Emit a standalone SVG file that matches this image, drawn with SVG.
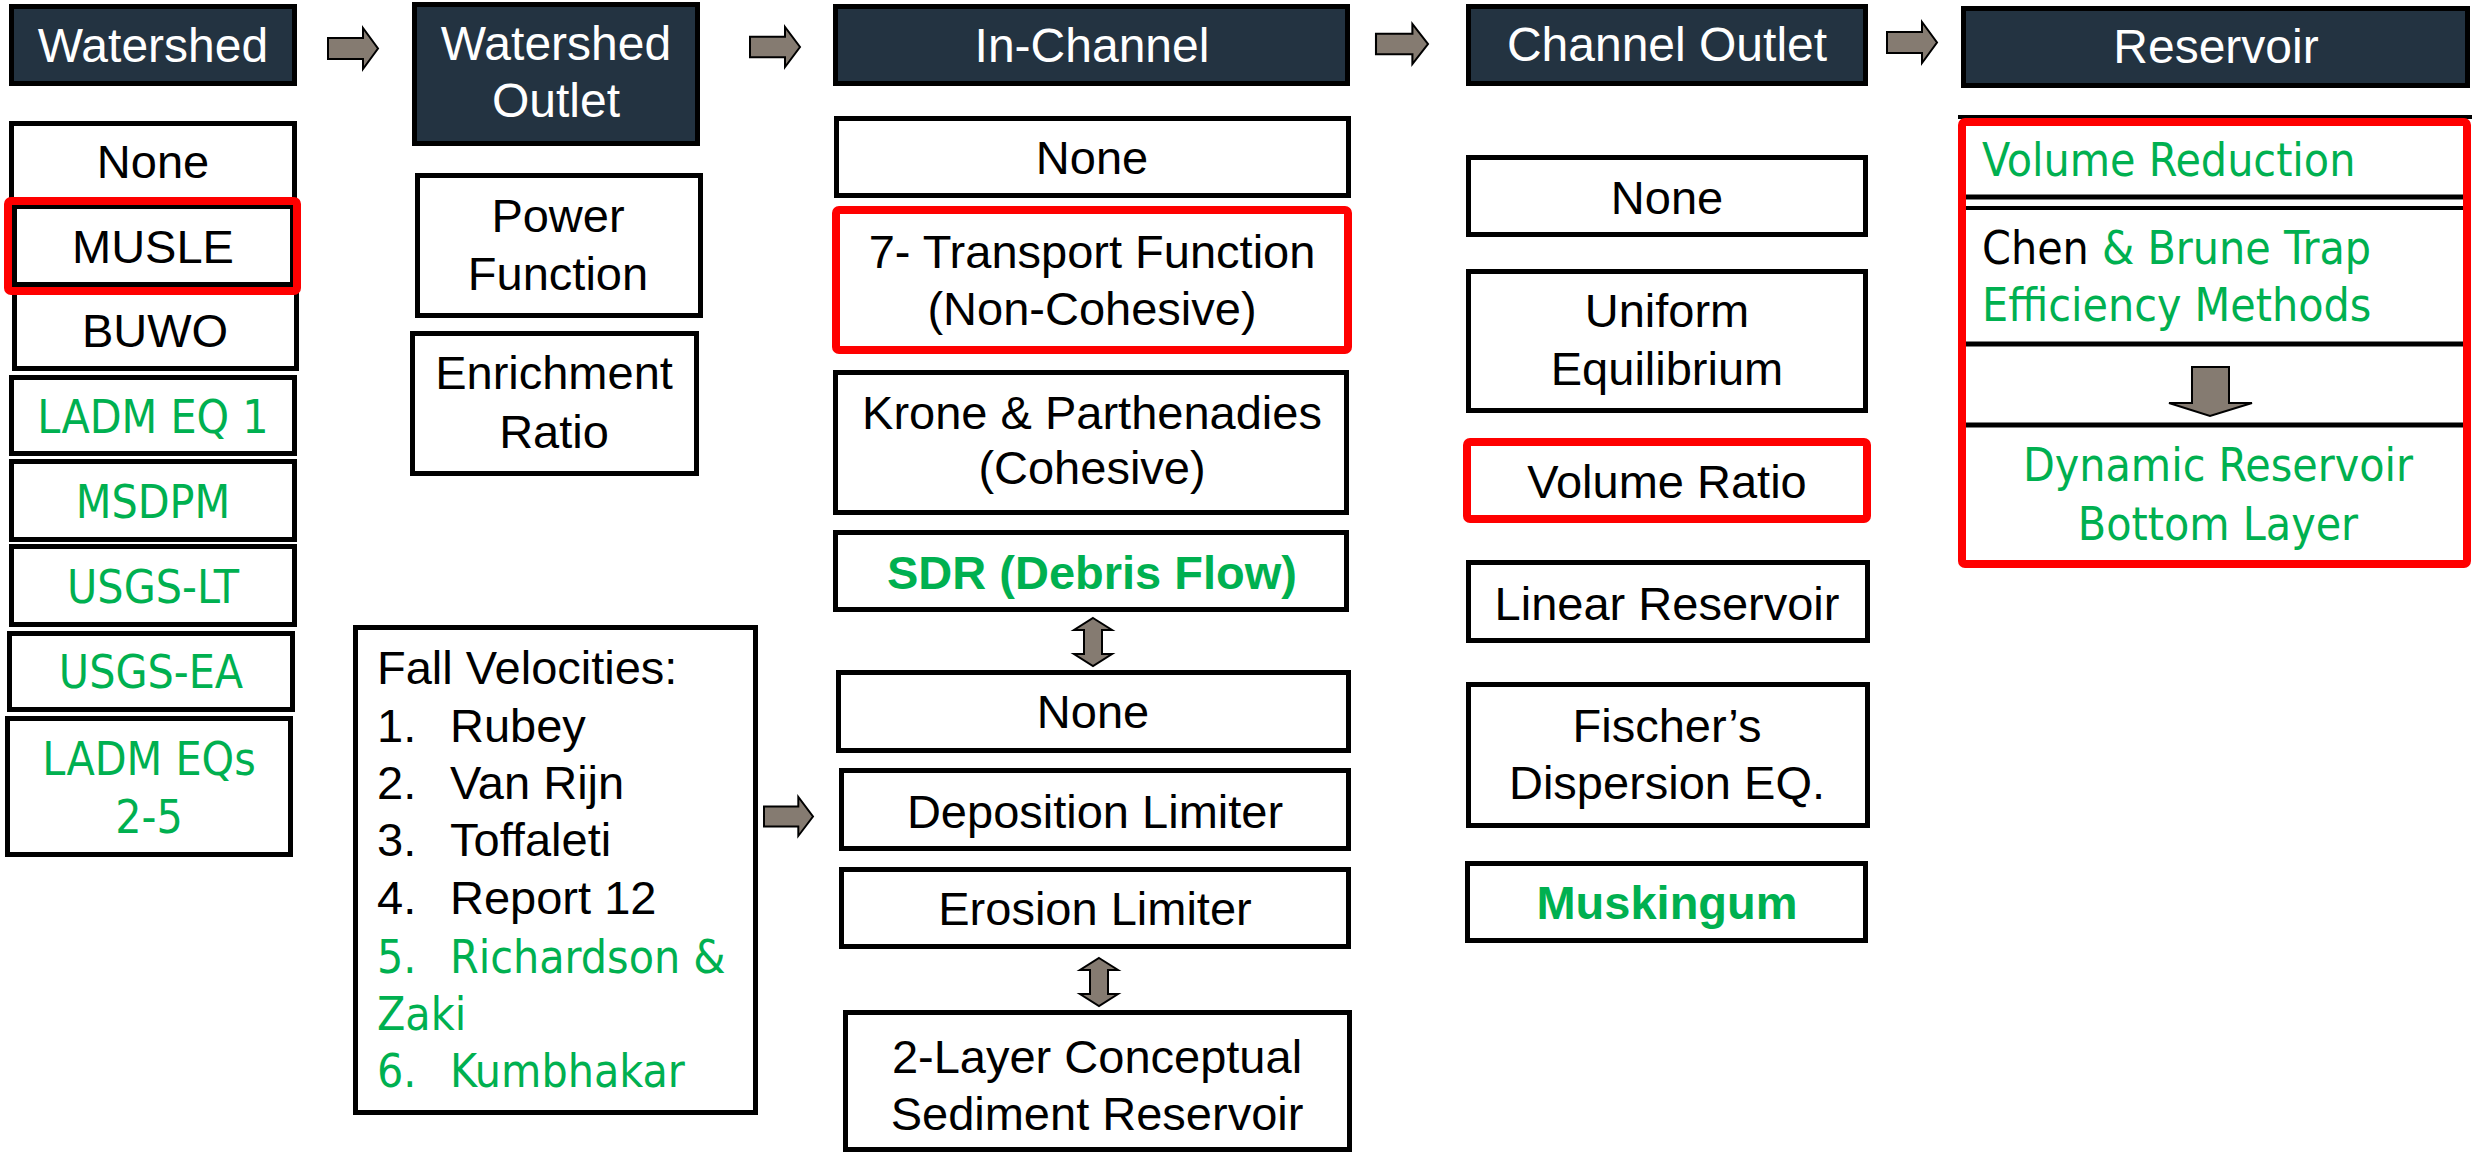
<svg xmlns="http://www.w3.org/2000/svg" xmlns:xlink="http://www.w3.org/1999/xlink" width="2472" height="1153" viewBox="0 0 2472 1153">
<style>
.box{fill:#fff;stroke:#000;stroke-width:5}
.hdr{fill:#233341;stroke:#000;stroke-width:5}
.sel{fill:none;stroke:#ff0000;stroke-width:8}
.t{font-family:"Liberation Sans",Arial,sans-serif;font-size:47px;fill:#000;text-anchor:middle}
.th{font-family:"Liberation Sans",Arial,sans-serif;font-size:48px;fill:#fff;text-anchor:middle}
.g{font-family:"DejaVu Sans Condensed","DejaVu Sans",Tahoma,sans-serif;font-stretch:condensed;font-size:46px;fill:#00b050;text-anchor:middle}
.gb{font-family:"Liberation Sans",Arial,sans-serif;font-size:47px;font-weight:bold;fill:#00b050;text-anchor:middle}
.l{text-anchor:start}
.k{fill:#000}
.arr{fill:#857b71;stroke:#000;stroke-width:2}
</style>
<defs>
<path id="ra" d="M0,10 H35 V0 L50,20.5 L35,41 V31 H0 Z"/>
<path id="va" d="M19,0 L38,12 H28 V36 H38 L19,48 L0,36 H10 V12 H0 Z"/>
</defs>

<g id="watershed">
<rect class="hdr" x="11.5" y="6.5" width="283" height="77"/>
<text class="th" x="153" y="62">Watershed</text>
</g>
<g id="ws-none"><rect class="box" x="11.5" y="123.5" width="283" height="77"/><text class="t" x="153" y="178">None</text></g>
<g id="ws-buwo"><rect class="box" x="14.5" y="289.5" width="282" height="79"/><text class="t" x="155" y="347">BUWO</text></g>
<g id="ws-musle"><rect class="box" x="14.5" y="206.5" width="278" height="78"/><text class="t" x="153" y="263">MUSLE</text>
<rect class="sel" x="8" y="201" width="289" height="90" rx="3"/></g>
<g id="ws-ladm1"><rect class="box" x="11.5" y="377.5" width="283" height="76"/><text class="g" x="153" y="433">LADM EQ 1</text></g>
<g id="ws-msdpm"><rect class="box" x="11.5" y="461.5" width="283" height="78"/><text class="g" x="153" y="518">MSDPM</text></g>
<g id="ws-usgslt"><rect class="box" x="11.5" y="546.5" width="283" height="78"/><text class="g" x="153" y="603">USGS-LT</text></g>
<g id="ws-usgsea"><rect class="box" x="9.5" y="633.5" width="283" height="76"/><text class="g" x="151" y="688">USGS-EA</text></g>
<g id="ws-ladm25"><rect class="box" x="7.5" y="718.5" width="283" height="136"/><text class="g" x="149" y="775">LADM EQs</text><text class="g" x="149" y="833">2-5</text></g>

<g id="watershed-outlet">
<rect class="hdr" x="414.5" y="4.5" width="283" height="139"/>
<text class="th" x="556" y="60">Watershed</text>
<text class="th" x="556" y="117">Outlet</text>
</g>
<g id="wo-power"><rect class="box" x="417.5" y="175.5" width="283" height="140"/><text class="t" x="558" y="232">Power</text><text class="t" x="558" y="290">Function</text></g>
<g id="wo-enrich"><rect class="box" x="412.5" y="333.5" width="284" height="140"/><text class="t" x="554" y="389">Enrichment</text><text class="t" x="554" y="448">Ratio</text></g>
<g id="fall-velocities"><rect class="box" x="355.5" y="627.5" width="400" height="485"/>
<text class="t l" x="377" y="684">Fall Velocities:</text>
<text class="t l" x="377" y="742">1.</text><text class="t l" x="450" y="742">Rubey</text>
<text class="t l" x="377" y="799">2.</text><text class="t l" x="450" y="799">Van Rijn</text>
<text class="t l" x="377" y="856">3.</text><text class="t l" x="450" y="856">Toffaleti</text>
<text class="t l" x="377" y="914">4.</text><text class="t l" x="450" y="914">Report 12</text>
<text class="g l" x="377" y="973">5.</text><text class="g l" x="450" y="973">Richardson &amp;</text>
<text class="g l" x="377" y="1030">Zaki</text>
<text class="g l" x="377" y="1087">6.</text><text class="g l" x="450" y="1087">Kumbhakar</text>
</g>

<g id="in-channel">
<rect class="hdr" x="835.5" y="6.5" width="512" height="77"/>
<text class="th" x="1092" y="62">In-Channel</text>
</g>
<g id="ic-none"><rect class="box" x="836.5" y="118.5" width="512" height="77"/><text class="t" x="1092" y="174">None</text></g>
<g id="ic-transport"><rect x="836" y="210" width="512" height="140" fill="#fff" stroke="#999" stroke-width="1"/><rect class="sel" x="836" y="210" width="512" height="140" rx="3"/><text class="t" x="1092" y="268">7- Transport Function</text><text class="t" x="1092" y="325">(Non-Cohesive)</text></g>
<g id="ic-krone"><rect class="box" x="835.5" y="372.5" width="511" height="140"/><text class="t" x="1092" y="429">Krone &amp; Parthenadies</text><text class="t" x="1092" y="484">(Cohesive)</text></g>
<g id="ic-sdr"><rect class="box" x="835.5" y="532.5" width="511" height="77"/><text class="gb" x="1092" y="589">SDR (Debris Flow)</text></g>
<g id="ic-none2"><rect class="box" x="838.5" y="672.5" width="510" height="78"/><text class="t" x="1093" y="728">None</text></g>
<g id="ic-deposition"><rect class="box" x="841.5" y="770.5" width="507" height="78"/><text class="t" x="1095" y="828">Deposition Limiter</text></g>
<g id="ic-erosion"><rect class="box" x="841.5" y="869.5" width="507" height="77"/><text class="t" x="1095" y="925">Erosion Limiter</text></g>
<g id="ic-2layer"><rect class="box" x="845.5" y="1012.5" width="504" height="137"/><text class="t" x="1097" y="1073">2-Layer Conceptual</text><text class="t" x="1097" y="1130">Sediment Reservoir</text></g>

<g id="channel-outlet">
<rect class="hdr" x="1468.5" y="6.5" width="397" height="77"/>
<text class="th" x="1667" y="61">Channel Outlet</text>
</g>
<g id="co-none"><rect class="box" x="1468.5" y="157.5" width="397" height="77"/><text class="t" x="1667" y="214">None</text></g>
<g id="co-uniform"><rect class="box" x="1468.5" y="271.5" width="397" height="139"/><text class="t" x="1667" y="327">Uniform</text><text class="t" x="1667" y="385">Equilibrium</text></g>
<g id="co-volratio"><rect x="1467" y="442" width="400" height="77" fill="#fff" stroke="#999" stroke-width="1"/><rect class="sel" x="1467" y="442" width="400" height="77" rx="3"/><text class="t" x="1667" y="498">Volume Ratio</text></g>
<g id="co-linear"><rect class="box" x="1468.5" y="562.5" width="399" height="78"/><text class="t" x="1667" y="620">Linear Reservoir</text></g>
<g id="co-fischer"><rect class="box" x="1468.5" y="684.5" width="399" height="141"/><text class="t" x="1667" y="742">Fischer’s</text><text class="t" x="1667" y="799">Dispersion EQ.</text></g>
<g id="co-muskingum"><rect class="box" x="1467.5" y="863.5" width="398" height="77"/><text class="gb" x="1667" y="919">Muskingum</text></g>

<g id="reservoir">
<rect class="hdr" x="1963.5" y="8.5" width="504" height="77"/>
<text class="th" x="2216" y="63">Reservoir</text>
</g>
<g id="res-methods">
<rect x="1960" y="117" width="510" height="448" fill="#fff"/>
<line x1="1958" y1="117" x2="2472" y2="117" stroke="#000" stroke-width="4"/>
<line x1="1962" y1="197" x2="2466" y2="197" stroke="#000" stroke-width="5"/>
<line x1="1962" y1="208" x2="2466" y2="208" stroke="#000" stroke-width="4"/>
<line x1="1962" y1="344" x2="2466" y2="344" stroke="#000" stroke-width="5"/>
<line x1="1962" y1="425" x2="2466" y2="425" stroke="#000" stroke-width="5"/>
<text class="g l" x="1982" y="176">Volume Reduction</text>
<text class="g l" x="1982" y="264"><tspan class="k">Chen</tspan> &amp; Brune Trap</text>
<text class="g l" x="1982" y="321">Efficiency Methods</text>
<path class="arr" d="M2192,367 H2229 V403 H2252 L2210,416 L2169,403 H2192 Z"/>
<text class="g" x="2218" y="481">Dynamic Reservoir</text>
<text class="g" x="2218" y="540">Bottom Layer</text>
<rect class="sel" x="1962" y="122" width="505" height="442" rx="3"/>
</g>

<g id="connectors">
<use xlink:href="#ra" class="arr" transform="translate(328,28)"/>
<use xlink:href="#ra" class="arr" transform="translate(750,27) scale(1,0.976)"/>
<use xlink:href="#ra" class="arr" transform="translate(1376,24) scale(1.04,0.976)"/>
<use xlink:href="#ra" class="arr" transform="translate(1887,22)"/>
<use xlink:href="#ra" class="arr" transform="translate(764,797) scale(0.98,0.95)"/>
<use xlink:href="#va" class="arr" transform="translate(1074,618)"/>
<use xlink:href="#va" class="arr" transform="translate(1080,958)"/>
</g>
</svg>
